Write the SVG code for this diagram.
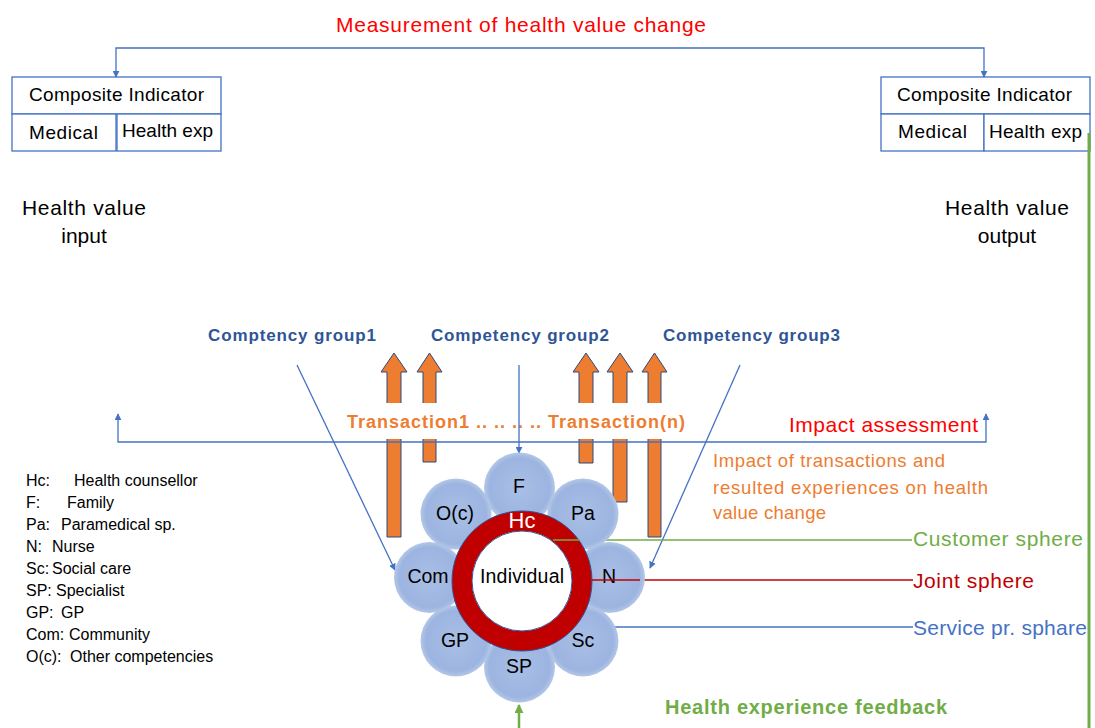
<svg xmlns="http://www.w3.org/2000/svg" width="1095" height="728" viewBox="0 0 1095 728">
<style>
text{font-family:"Liberation Sans",Arial,sans-serif}
.box{fill:#fff;stroke:#4472C4;stroke-width:1.3}
.bl{stroke:#4472C4;stroke-width:1.3;fill:none}
.grp{fill:#2F5597;font-weight:bold;font-size:17px}
.leg{font-size:16px;fill:#000}
.pet{fill:url(#pg)}
.pl{font-size:19.5px;fill:#000;text-anchor:middle}
.oarr{fill:#ED7D31;stroke:#2F4A7A;stroke-width:1}
.bx{font-size:19px}
</style>
<defs>
<marker id="ab" viewBox="0 0 10 10" refX="9" refY="5" markerWidth="7" markerHeight="7" orient="auto-start-reverse" markerUnits="userSpaceOnUse">
<path d="M0,0 L10,5 L0,10 z" fill="#4472C4"/>
</marker>
<marker id="ag" viewBox="0 0 10 10" refX="9" refY="5" markerWidth="9" markerHeight="9" orient="auto" markerUnits="userSpaceOnUse">
<path d="M0,0 L10,5 L0,10 z" fill="#70AD47"/>
</marker>
<radialGradient id="pg" cx="50%" cy="50%" r="50%">
<stop offset="0" stop-color="#A9BFE6"/>
<stop offset="0.85" stop-color="#9CB4E0"/>
<stop offset="1" stop-color="#B4C7E7"/>
</radialGradient>
</defs>

<text x="336" y="32" font-size="21" fill="#FF0000" textLength="370">Measurement of health value change</text>

<g id="box-left">
<rect class="box" x="12" y="77" width="209" height="37"/>
<rect class="box" x="12" y="114" width="104" height="37"/>
<rect class="box" x="117" y="114" width="104" height="37"/>
<text class="bx" x="29" y="101" textLength="175">Composite Indicator</text>
<text class="bx" x="29" y="139" textLength="69">Medical</text>
<text class="bx" x="122" y="137" textLength="91">Health exp</text>
</g>
<g id="box-right">
<rect class="box" x="881" y="77" width="209" height="37"/>
<rect class="box" x="881" y="114" width="103" height="37"/>
<rect class="box" x="984" y="114" width="106" height="37"/>
<text class="bx" x="897" y="101" textLength="175">Composite Indicator</text>
<text class="bx" x="898" y="138" textLength="69">Medical</text>
<text class="bx" x="989" y="138" textLength="93">Health exp</text>
</g>

<g id="hv-input"><text x="22" y="215" font-size="21" textLength="124">Health value</text><text x="84" y="243" font-size="21" text-anchor="middle">input</text></g>
<g id="hv-output"><text x="945" y="215" font-size="21" textLength="124">Health value</text><text x="1007" y="243" font-size="21" text-anchor="middle">output</text></g>

<g id="groups">
<text class="grp" x="208" y="341" textLength="168">Comptency group1</text>
<text class="grp" x="431" y="341" textLength="178">Competency group2</text>
<text class="grp" x="663" y="341" textLength="177">Competency group3</text>
</g>

<g id="transactions">
<path class="oarr" d="M387,537 V372 H381 L394,353 L407,372 H401 V537 Z"/>
<path class="oarr" d="M423,462 V372 H417 L429.5,353 L442,372 H436 V462 Z"/>
<path class="oarr" d="M579,463 V372 H573 L586,353 L599,372 H593 V463 Z"/>
<path class="oarr" d="M613,502 V372 H607 L620,353 L633,372 H627 V502 Z"/>
<path class="oarr" d="M648,537 V372 H642 L654.5,353 L667,372 H661 V537 Z"/>
</g>
<g id="transaction-label">
<rect x="340" y="403" width="355" height="36" fill="#fff"/>
<text x="347" y="428" font-size="18" font-weight="bold" fill="#ED7D31" textLength="338">Transaction1 .. .. .. .. Transaction(n)</text>
</g>

<g id="connectors">
<polyline class="bl" points="116,77 116,48 984,48 984,77" marker-start="url(#ab)" marker-end="url(#ab)"/>
<polyline class="bl" points="118,414 118,442 986,442 986,414" marker-start="url(#ab)" marker-end="url(#ab)"/>
<line class="bl" x1="297" y1="365" x2="395" y2="570" marker-end="url(#ab)"/>
<line class="bl" x1="519" y1="365" x2="519" y2="453" marker-end="url(#ab)"/>
<line class="bl" x1="740" y1="365" x2="650" y2="568" marker-end="url(#ab)"/>
<line x1="553" y1="540" x2="912" y2="540" stroke="#70AD47" stroke-width="1.5"/>
<line x1="592" y1="580" x2="913" y2="580" stroke="#C00000" stroke-width="1.5"/>
<line x1="607" y1="627" x2="913" y2="627" stroke="#4472C4" stroke-width="1.5"/>
<line x1="1089" y1="133" x2="1089" y2="728" stroke="#70AD47" stroke-width="3"/>
<line x1="519" y1="728" x2="519" y2="705" stroke="#70AD47" stroke-width="2.5" marker-end="url(#ag)"/>
</g>

<text x="789" y="432" font-size="21" fill="#FF0000" textLength="189">Impact assessment</text>
<g font-size="18.5" fill="#ED7D31">
<text x="713" y="467" textLength="232">Impact of transactions and</text>
<text x="713" y="494" textLength="275">resulted experiences on health</text>
<text x="713" y="519" textLength="113">value change</text>
</g>

<g id="legend">
<text class="leg" y="486"><tspan x="26">Hc:</tspan> <tspan x="74">Health counsellor</tspan></text>
<text class="leg" y="508"><tspan x="26">F:</tspan> <tspan x="67">Family</tspan></text>
<text class="leg" y="530"><tspan x="26">Pa:</tspan> <tspan x="61">Paramedical sp.</tspan></text>
<text class="leg" y="552"><tspan x="26">N:</tspan> <tspan x="52">Nurse</tspan></text>
<text class="leg" y="574"><tspan x="26">Sc:</tspan> <tspan x="52">Social care</tspan></text>
<text class="leg" y="596"><tspan x="26">SP:</tspan> <tspan x="56">Specialist</tspan></text>
<text class="leg" y="618"><tspan x="26">GP:</tspan> <tspan x="61">GP</tspan></text>
<text class="leg" y="640"><tspan x="26">Com:</tspan> <tspan x="69">Community</tspan></text>
<text class="leg" y="662"><tspan x="26">O(c):</tspan> <tspan x="70">Other competencies</tspan></text>
</g>

<g id="petal-F"><circle class="pet" cx="519.5" cy="488" r="35.5"/><text class="pl" x="519" y="493">F</text></g>
<g id="petal-Pa"><circle class="pet" cx="583" cy="514" r="35.5"/><text class="pl" x="583" y="520">Pa</text></g>
<g id="petal-N"><circle class="pet" cx="609.5" cy="577.5" r="35.5"/><text class="pl" x="609" y="583">N</text></g>
<g id="petal-Sc"><circle class="pet" cx="583" cy="641" r="35.5"/><text class="pl" x="583" y="647">Sc</text></g>
<g id="petal-SP"><circle class="pet" cx="519.5" cy="667" r="35.5"/><text class="pl" x="519" y="673">SP</text></g>
<g id="petal-GP"><circle class="pet" cx="456" cy="641" r="35.5"/><text class="pl" x="455" y="647">GP</text></g>
<g id="petal-Com"><circle class="pet" cx="429.5" cy="577.5" r="35.5"/><text class="pl" x="428" y="583">Com</text></g>
<g id="petal-Oc"><circle class="pet" cx="456" cy="514" r="35.5"/><text class="pl" x="455" y="520">O(c)</text></g>

<g id="ring-Hc">
<circle cx="522" cy="581" r="60" fill="none" stroke="#C00000" stroke-width="20"/>
<circle cx="522" cy="581" r="70" fill="none" stroke="#2F5597" stroke-width="1"/>
<circle cx="522" cy="581" r="50" fill="#fff" stroke="#2F5597" stroke-width="1"/>
<text x="522" y="528" font-size="22" fill="#fff" text-anchor="middle">Hc</text>
</g>
<line x1="553" y1="540" x2="580" y2="540" stroke="#70AD47" stroke-width="1.5"/>
<line x1="592" y1="580" x2="640" y2="580" stroke="#C00000" stroke-width="1.5"/>
<g id="individual"><text x="480" y="583" font-size="19.5" textLength="84">Individual</text></g>

<g id="spheres" font-size="21">
<text x="913" y="546" fill="#70AD47" textLength="170">Customer sphere</text>
<text x="913" y="588" fill="#C00000" textLength="121">Joint sphere</text>
<text x="913" y="635" fill="#4472C4" textLength="174">Service pr. sphare</text>
</g>
<text x="665" y="714" font-size="20" font-weight="bold" fill="#70AD47" textLength="282">Health experience feedback</text>
</svg>
